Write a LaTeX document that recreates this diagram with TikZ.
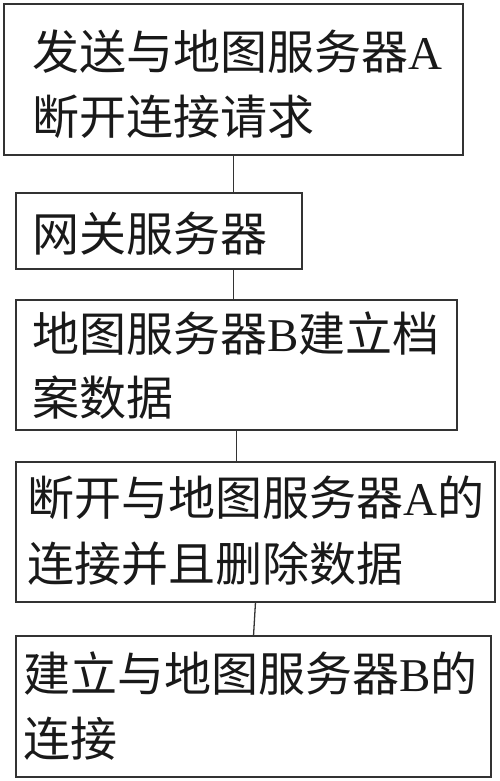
\documentclass[tikz,border=0pt]{standalone}
\usepackage{fontspec}
\setmainfont{Liberation Serif}
\newfontfamily\cjk{Noto Sans CJK SC}
\newcommand\lat[1]{{\rmfamily #1}}
\begin{document}
\begin{tikzpicture}[x=1pt,y=-1pt,
  box/.style={draw=black!80, line width=1.3pt, rectangle, inner sep=0pt, outer sep=0pt, anchor=north west},
  txt/.style={anchor=base west, inner sep=0pt, font=\cjk\fontsize{47}{65}\selectfont, text=black!90},
  link/.style={draw=black!80, line width=1.3pt}]
\useasboundingbox (0,0) rectangle (500,781);
\node[box, minimum width=459pt, minimum height=151pt] (b1) at (4,4) {};
\node[box, minimum width=286pt, minimum height=76pt] (b2) at (16,193) {};
\node[box, minimum width=441pt, minimum height=130pt] (b3) at (16,300) {};
\node[box, minimum width=479pt, minimum height=140pt] (b4) at (16,462) {};
\node[box, minimum width=475pt, minimum height=141pt] (b5) at (16,636) {};
\node[txt] (t1a) at (32,70) {发送与地图服务器\lat{A}};
\node[txt] (t1b) at (32,135) {断开连接请求};
\node[txt] (t2a) at (32,251) {网关服务器};
\node[txt] (t3a) at (32,351) {地图服务器\lat{B}建立档};
\node[txt] (t3b) at (32,415) {案数据};
\node[txt] (t4a) at (27,515) {断开与地图服务器\lat{A}的};
\node[txt] (t4b) at (27,581) {连接并且删除数据};
\node[txt] (t5a) at (23,691) {建立与地图服务器\lat{B}的};
\node[txt] (t5b) at (23,756) {连接};
\draw[link] (b1.south) -- (b1.south |- b2.north);
\draw[link] (b1.south |- b2.south) -- (b1.south |- b3.north);
\draw[link] (b3.south) -- (b3.south |- b4.north);
\draw[link] (b4.south) -- (b5.north);
\end{tikzpicture}
\end{document}
